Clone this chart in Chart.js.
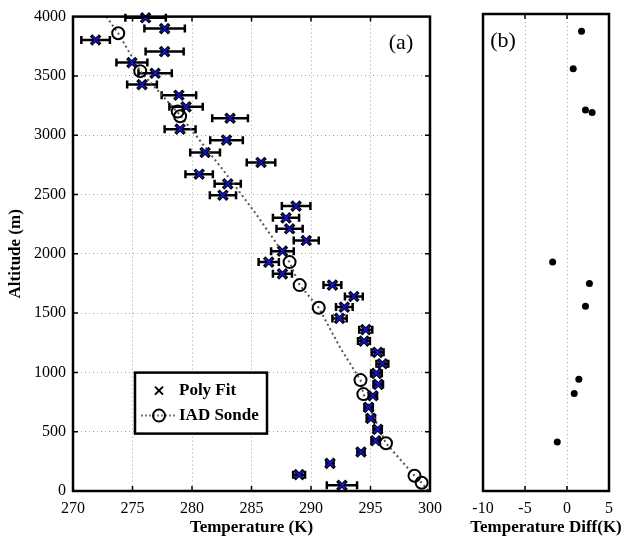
<!DOCTYPE html>
<html>
<head>
    <title>Temperature profile</title>
    <script src="https://cdn.jsdelivr.net/npm/chart.js"></script>
    <style>
        body { margin: 0; background: #fff; }
        #wrap { position: relative; width: 624px; height: 546px; }
        canvas { position: absolute; top: 0; }
        #tempChart { left: 0; }
        #diffChart { left: 450px; }
    </style>
</head>
<body>
<div id="wrap">
    <canvas id="tempChart" width="450" height="546"></canvas>
    <canvas id="diffChart" width="174" height="546"></canvas>
</div>
<script>
    // Poly Fit retrievals (temperature K, altitude m, error half-width K)
    const polyAlt = [3990, 3899, 3803, 3705, 3612, 3522, 3427, 3337, 3239, 3143, 3051, 2958, 2854, 2770, 2671,
        2590, 2494, 2402, 2303, 2211, 2112, 2022, 1930, 1831, 1736, 1640, 1551, 1455, 1360, 1264, 1169, 1073,
        992, 899, 803, 705, 612, 520, 424, 329, 233, 138, 48];
    const polyTemp = [276.1, 277.7, 271.9, 277.7, 274.95, 276.9, 275.8, 278.9, 279.5, 283.2, 279.0, 282.9, 281.1, 285.8, 280.6,
        283.0, 282.6, 288.75, 287.9, 288.2, 289.6, 287.6, 286.45, 287.6, 291.8, 293.6, 292.8, 292.4, 294.6, 294.45, 295.6, 296.0,
        295.5, 295.65, 295.2, 294.84, 295.03, 295.6, 295.43, 294.2, 291.6, 289.0, 292.6];
    const polyErr = [1.7, 1.7, 1.2, 1.6, 1.3, 1.4, 1.25, 1.45, 1.4, 1.5, 1.3, 1.37, 1.25, 1.2, 1.15,
        1.1, 1.1, 1.2, 1.1, 1.1, 1.05, 0.95, 0.85, 0.8, 0.75, 0.75, 0.7, 0.6, 0.55, 0.5, 0.5, 0.5,
        0.45, 0.4, 0.35, 0.35, 0.35, 0.35, 0.35, 0.3, 0.3, 0.5, 1.27];

    // IAD sonde points and the sonde profile (dotted)
    const sondeTemp = [273.8, 275.65, 278.8, 279.0, 288.2, 289.05, 290.65, 294.16, 294.4, 296.3, 298.7, 299.3];
    const sondeAlt = [3860, 3540, 3199, 3160, 1930, 1736, 1545, 935, 817, 402, 129, 70];
    const profTemp = [272.8, 273.8, 275.65, 278.9, 282.7, 285.4, 288.2, 289.05, 290.65, 292.5, 294.16, 294.4, 296.3, 298.7, 299.3, 299.9];
    const profAlt = [4000, 3860, 3540, 3180, 2695, 2333, 1930, 1736, 1545, 1200, 935, 817, 402, 129, 70, 0];

    // panel (b): temperature difference
    const diffVal = [1.73, 0.74, 2.2, 2.99, -1.71, 2.67, 2.2, 1.41, 0.86, -1.16];
    const diffAlt = [3855, 3540, 3195, 3174, 1920, 1739, 1549, 937, 817, 411];

    const tempTicks = [270, 275, 280, 285, 290, 295, 300];
    const altTicks = [0, 500, 1000, 1500, 2000, 2500, 3000, 3500, 4000];
    const diffTicks = [-10, -5, 0, 5];

    const serif = "'Liberation Serif', 'DejaVu Serif', serif";
    const tickFont = { family: serif, size: 16 };
    const titleFont = { family: serif, size: 17, weight: 'bold' };
    const plain = v => String(v);

    const pts = (xs, ys) => xs.map((x, i) => ({ x: x, y: ys[i] }));

    // frame + inward tick marks, matlab style
    const framePlugin = {
        id: 'frame',
        afterDraw(chart, args, opts) {
            const { ctx, chartArea: a, scales } = chart;
            ctx.save();
            ctx.strokeStyle = '#000';
            ctx.lineWidth = 1.5;
            ctx.beginPath();
            scales.x.ticks.forEach(t => {
                const px = scales.x.getPixelForValue(t.value);
                if (px <= a.left + 1 || px >= a.right - 1) return;
                ctx.moveTo(px, a.bottom); ctx.lineTo(px, a.bottom - 5);
                ctx.moveTo(px, a.top); ctx.lineTo(px, a.top + 5);
            });
            if (opts.yTicks) {
                scales.y.ticks.forEach(t => {
                    const py = scales.y.getPixelForValue(t.value);
                    if (py <= a.top + 1 || py >= a.bottom - 1) return;
                    ctx.moveTo(a.left, py); ctx.lineTo(a.left + 5, py);
                    ctx.moveTo(a.right, py); ctx.lineTo(a.right - 5, py);
                });
            }
            ctx.stroke();
            ctx.lineWidth = 2.5;
            ctx.strokeRect(a.left, a.top, a.right - a.left, a.bottom - a.top);
            // panel letter
            ctx.fillStyle = '#000';
            ctx.font = '22px ' + serif;
            ctx.textBaseline = 'middle';
            ctx.textAlign = 'center';
            ctx.fillText(opts.letter, opts.letterLeft ? a.left + 20 : a.right - 29, a.top + 27);
            if (opts.xTitle) {
                ctx.font = 'bold 17px ' + serif;
                ctx.fillText(opts.xTitle, (a.left + a.right) / 2, 528);
            }
            ctx.restore();
        }
    };

    // horizontal error bars for Poly Fit
    const errorBars = {
        id: 'errorBars',
        beforeDatasetsDraw(chart) {
            const { ctx, scales: { x, y } } = chart;
            ctx.save();
            ctx.strokeStyle = '#000';
            ctx.lineWidth = 2.5;
            ctx.beginPath();
            polyTemp.forEach((t, i) => {
                const py = y.getPixelForValue(polyAlt[i]);
                const x1 = x.getPixelForValue(t - polyErr[i]);
                const x2 = x.getPixelForValue(t + polyErr[i]);
                ctx.moveTo(x1, py); ctx.lineTo(x2, py);
                ctx.moveTo(x1, py - 4); ctx.lineTo(x1, py + 4);
                ctx.moveTo(x2, py - 4); ctx.lineTo(x2, py + 4);
            });
            ctx.stroke();
            ctx.restore();
        }
    };

    // legend box inside panel (a)
    const legendBox = {
        id: 'legendBox',
        afterDraw(chart) {
            const { ctx, chartArea: a } = chart;
            const lx = a.left + 62, ly = a.top + 356, w = 132, h = 61;
            ctx.save();
            ctx.fillStyle = '#fff';
            ctx.fillRect(lx, ly, w, h);
            ctx.strokeStyle = '#000';
            ctx.lineWidth = 2.5;
            ctx.strokeRect(lx, ly, w, h);
            const mx = lx + 24, r1 = ly + 18, r2 = ly + 43;
            ctx.lineWidth = 2;
            ctx.beginPath();
            ctx.moveTo(mx - 4, r1 - 4); ctx.lineTo(mx + 4, r1 + 4);
            ctx.moveTo(mx + 4, r1 - 4); ctx.lineTo(mx - 4, r1 + 4);
            ctx.stroke();
            ctx.strokeStyle = '#777';
            ctx.setLineDash([2, 2]);
            ctx.beginPath();
            ctx.moveTo(lx + 6, r2); ctx.lineTo(mx + 18, r2);
            ctx.stroke();
            ctx.setLineDash([]);
            ctx.strokeStyle = '#000';
            ctx.beginPath();
            ctx.arc(mx, r2, 6, 0, Math.PI * 2);
            ctx.stroke();
            ctx.fillStyle = '#000';
            ctx.font = 'bold 17px ' + serif;
            ctx.textBaseline = 'middle';
            ctx.textAlign = 'left';
            ctx.fillText('Poly Fit', lx + 44, r1);
            ctx.fillText('IAD Sonde', lx + 44, r2);
            ctx.restore();
        }
    };

    const gridOpts = { color: '#a8a8a8', lineWidth: 1, drawTicks: false };

    new Chart(document.getElementById('tempChart'), {
        type: 'scatter',
        data: {
            datasets: [
                {
                    label: 'IAD Sonde profile',
                    data: pts(profTemp, profAlt),
                    showLine: true,
                    borderColor: '#555',
                    borderWidth: 2,
                    borderDash: [2, 3],
                    pointRadius: 0,
                    order: 4
                },
                {
                    label: 'Poly Fit',
                    data: pts(polyTemp, polyAlt),
                    pointStyle: 'crossRot',
                    pointRadius: 6.5,
                    borderColor: '#000',
                    borderWidth: 3.5,
                    clip: false,
                    order: 3
                },
                {
                    label: 'Poly Fit core',
                    data: pts(polyTemp, polyAlt),
                    pointStyle: 'crossRot',
                    pointRadius: 5,
                    borderColor: '#1414d8',
                    borderWidth: 1.6,
                    clip: false,
                    order: 2
                },
                {
                    label: 'IAD Sonde',
                    data: pts(sondeTemp, sondeAlt),
                    pointStyle: 'circle',
                    pointRadius: 6,
                    borderColor: '#000',
                    borderWidth: 2,
                    backgroundColor: 'rgba(0,0,0,0)',
                    clip: false,
                    order: 1
                }
            ]
        },
        options: {
            responsive: false,
            animation: false,
            layout: { padding: { top: 14, right: 13, left: 0, bottom: 0 } },
            plugins: {
                legend: { display: false },
                tooltip: { enabled: false },
                frame: { letter: '(a)', yTicks: true }
            },
            scales: {
                x: {
                    type: 'linear',
                    min: tempTicks[0],
                    max: tempTicks[tempTicks.length - 1],
                    afterBuildTicks: s => { s.ticks = tempTicks.map(v => ({ value: v })); },
                    afterFit: s => { s.height = 55; },
                    grid: gridOpts,
                    border: { display: false, dash: [1, 3] },
                    ticks: { font: tickFont, color: '#000', padding: 8, callback: plain },
                    title: { display: true, text: 'Temperature (K)', font: titleFont, color: '#000', padding: { top: 0, bottom: 8 } }
                },
                y: {
                    type: 'linear',
                    min: altTicks[0],
                    max: altTicks[altTicks.length - 1],
                    afterBuildTicks: s => { s.ticks = altTicks.map(v => ({ value: v })); },
                    afterFit: s => { s.width = 73; },
                    grid: gridOpts,
                    border: { display: false, dash: [1, 3] },
                    ticks: { font: tickFont, color: '#000', padding: 7, callback: plain },
                    title: { display: true, text: 'Altitude (m)', font: titleFont, color: '#000', padding: { top: 5, bottom: 0 } }
                }
            }
        },
        plugins: [errorBars, framePlugin, legendBox]
    });

    new Chart(document.getElementById('diffChart'), {
        type: 'scatter',
        data: {
            datasets: [{
                label: 'Temperature Diff',
                data: pts(diffVal, diffAlt),
                pointStyle: 'circle',
                pointRadius: 3.5,
                backgroundColor: '#000',
                borderColor: '#000',
                borderWidth: 0,
                clip: false
            }]
        },
        options: {
            responsive: false,
            animation: false,
            layout: { padding: { top: 14, right: 15, left: 0, bottom: 0 } },
            plugins: {
                legend: { display: false },
                tooltip: { enabled: false },
                frame: { letter: '(b)', letterLeft: true, yTicks: false, xTitle: 'Temperature Diff(K)' }
            },
            scales: {
                x: {
                    type: 'linear',
                    min: diffTicks[0],
                    max: diffTicks[diffTicks.length - 1],
                    afterBuildTicks: s => { s.ticks = diffTicks.map(v => ({ value: v })); },
                    afterFit: s => { s.height = 55; },
                    grid: gridOpts,
                    border: { display: false, dash: [1, 3] },
                    ticks: { font: tickFont, color: '#000', padding: 8, callback: plain }
                },
                y: {
                    type: 'linear',
                    min: altTicks[0],
                    max: altTicks[altTicks.length - 1],
                    afterFit: s => { s.width = 33; },
                    grid: { display: false },
                    border: { display: false },
                    ticks: { display: false }
                }
            }
        },
        plugins: [framePlugin]
    });
</script>
</body>
</html>
